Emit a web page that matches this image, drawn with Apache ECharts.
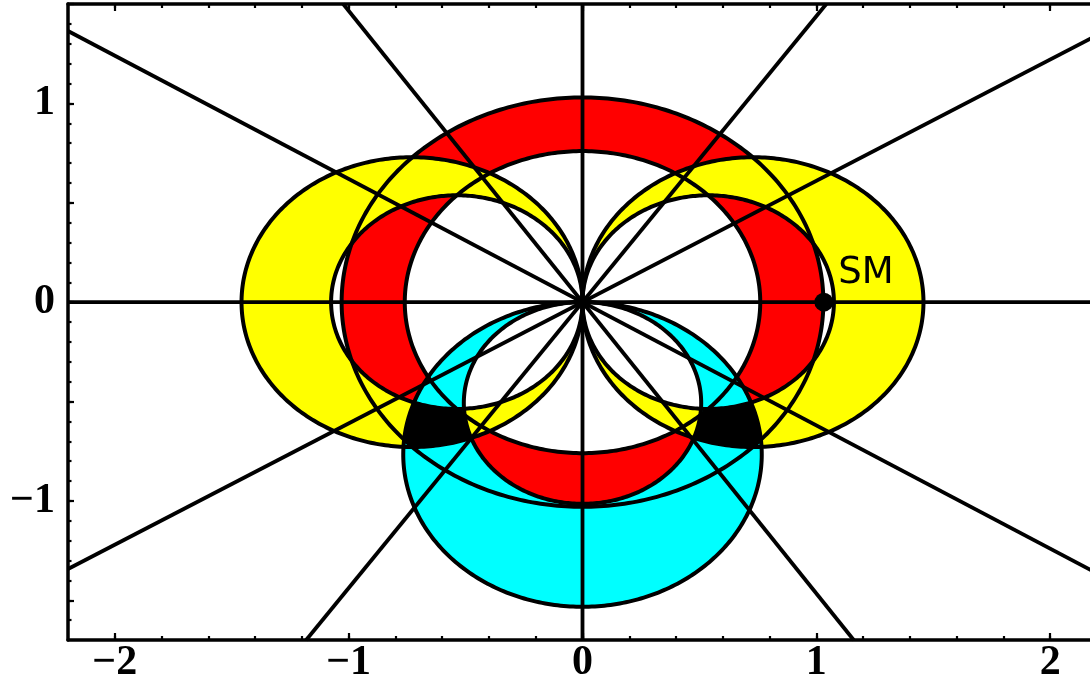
<!DOCTYPE html>
<html>
<head>
<meta charset="utf-8">
<script src="https://cdn.jsdelivr.net/npm/echarts@6/dist/echarts.min.js"></script>
<style>
    html, body { margin: 0; padding: 0; background: #fff; }
    #chart { width: 1090px; height: 685px; }
</style>
</head>
<body>
<div id="chart"></div>
<script>
// plot range
var xRange = [-2.2, 2.2];
var yRange = [-1.7, 1.5];

// red band: two circles round the origin (radii)
var redRadii = [0.76, 1.03];
// yellow loops: circles touching the y axis at the origin, left and right (diameters)
var yellowDiameters = [1.075, 1.458];
// cyan loop: circles touching the x axis at the origin, below it (diameters)
var cyanDiameters = [1.015, 1.533];
// straight lines through the origin (degrees)
var lineAngles = [0, 31.4, 55.2, 90, 124.3, 148.2];
// SM point
var smPoint = [1.032, 0];
var smLabel = 'SM';

// ticks
var xTickLabels = [-2, -1, 0, 1, 2];
var yTickLabels = [-1, 0, 1];
var yMajorTicks = [-1.5, -1, -0.5, 0, 0.5, 1, 1.5];

function steps(a, b, d) {
    var out = [];
    for (var v = a; v <= b + 1e-9; v += d) {
        out.push(Math.round(v * 10) / 10);
    }
    return out;
}
var xMinorTicks = steps(-2.0, 2.0, 0.2);
var yMinorTicks = steps(-1.6, 1.4, 0.1);

var colors = { red: '#ff0000', yellow: '#ffff00', cyan: '#00ffff', black: '#000000' };

/* radial bands: for an angle t, give [rmin, rmax] or null */
function redBand(t) {
    return [redRadii[0], redRadii[1]];
}
function yellowBand(t) {
    var c = Math.abs(Math.cos(t));
    return [yellowDiameters[0] * c, yellowDiameters[1] * c];
}
function cyanBand(t) {
    var s = -Math.sin(t);
    if (s <= 0) return null;
    return [cyanDiameters[0] * s, cyanDiameters[1] * s];
}
function allThree(t) {
    var lo = 0, hi = Infinity;
    var fns = [redBand, yellowBand, cyanBand];
    for (var i = 0; i < fns.length; i++) {
        var b = fns[i](t);
        if (!b) return null;
        lo = Math.max(lo, b[0]);
        hi = Math.min(hi, b[1]);
    }
    return [lo, hi];
}

// painted in this order: later ones cover earlier ones
var fillLayers = [
    { fn: redBand, color: colors.red },
    { fn: yellowBand, color: colors.yellow },
    { fn: cyanBand, color: colors.cyan },
    { fn: allThree, color: colors.black }
];

var N = 1440;

function bandPath(api, fn) {
    var ok = [], bands = [], i;
    for (i = 0; i < N; i++) {
        var t = 2 * Math.PI * i / N;
        var b = fn(t);
        bands.push(b);
        ok.push(!!b && b[1] - b[0] > 1e-9);
    }
    function pt(r, i) {
        var t = 2 * Math.PI * i / N;
        var p = api.coord([r * Math.cos(t), r * Math.sin(t)]);
        return p[0].toFixed(2) + ' ' + p[1].toFixed(2);
    }
    var d = '';
    if (ok.indexOf(false) < 0) {
        var outer = [], inner = [];
        for (i = 0; i < N; i++) outer.push(pt(bands[i][1], i));
        for (i = N - 1; i >= 0; i--) inner.push(pt(bands[i][0], i));
        return 'M' + outer.join(' L') + ' Z M' + inner.join(' L') + ' Z';
    }
    var start = ok.indexOf(false);
    var run = [];
    function flush() {
        if (run.length > 1) {
            var hi = run.map(function (k) { return pt(bands[k][1], k); });
            var lo = run.slice().reverse().map(function (k) { return pt(bands[k][0], k); });
            d += 'M' + hi.concat(lo).join(' L') + ' Z ';
        }
        run = [];
    }
    for (var k = 1; k <= N; k++) {
        var j = (start + k) % N;
        if (ok[j]) run.push(j);
        else flush();
    }
    flush();
    return d;
}

// outlines: every circle in full
var circles = [];
redRadii.forEach(function (r) { circles.push([0, 0, r]); });
yellowDiameters.forEach(function (dm) {
    circles.push([dm / 2, 0, dm / 2]);
    circles.push([-dm / 2, 0, dm / 2]);
});
cyanDiameters.forEach(function (dm) { circles.push([0, -dm / 2, dm / 2]); });

function fmt(v) {
    return v < 0 ? '\u2212' + (-v) : String(v);
}

function tickAxis(pos, range, ticks, len, showLine, labels) {
    return {
        type: 'value',
        gridIndex: 0,
        position: pos,
        min: range[0],
        max: range[1],
        axisLine: { show: showLine, onZero: false, lineStyle: { color: '#000', width: 3.5 } },
        axisTick: {
            show: true, inside: true, length: len, customValues: ticks,
            lineStyle: { color: '#000', width: 2.2 }
        },
        axisLabel: labels ? {
            show: true, customValues: labels, formatter: fmt, color: '#000',
            fontFamily: 'Liberation Serif', fontWeight: 'bold', fontSize: 42,
            margin: (pos === 'left' ? 13 : 2)
        } : { show: false },
        splitLine: { show: false },
        minorTick: { show: false },
        minorSplitLine: { show: false }
    };
}

var chart = echarts.init(document.getElementById('chart'));

chart.setOption({
    animation: false,
    backgroundColor: '#fff',
    grid: {
        left: 68, right: -7, top: 4, bottom: 45,
        containLabel: false, outerBoundsMode: 'none', show: false
    },
    xAxis: [
        tickAxis('bottom', xRange, xTickLabels, 7, true, xTickLabels),
        tickAxis('bottom', xRange, xMinorTicks, 4, false, null),
        tickAxis('top', xRange, xTickLabels, 7, true, null),
        tickAxis('top', xRange, xMinorTicks, 4, false, null)
    ],
    yAxis: [
        tickAxis('left', yRange, yMajorTicks, 6, true, yTickLabels),
        tickAxis('left', yRange, yMinorTicks, 3.5, false, null),
        tickAxis('right', yRange, yMajorTicks, 6, true, null),
        tickAxis('right', yRange, yMinorTicks, 3.5, false, null)
    ],
    series: [
        {
            type: 'custom',
            name: 'fills',
            xAxisIndex: 0, yAxisIndex: 0,
            data: fillLayers.map(function (l, i) { return [i, 0]; }),
            renderItem: function (params, api) {
                var layer = fillLayers[params.dataIndex];
                return {
                    type: 'path',
                    shape: { pathData: bandPath(api, layer.fn) },
                    style: {
                        fill: layer.color,
                        stroke: layer.fn === allThree ? 'rgba(255,255,255,0.45)' : null,
                        lineWidth: 0.7,
                        lineDash: [2, 2]
                    }
                };
            },
            z: 1
        },
        {
            type: 'custom',
            name: 'circles',
            xAxisIndex: 0, yAxisIndex: 0,
            data: circles,
            renderItem: function (params, api) {
                var c = circles[params.dataIndex];
                var pts = [];
                for (var i = 0; i < 360; i++) {
                    var t = 2 * Math.PI * i / 360;
                    pts.push(api.coord([c[0] + c[2] * Math.cos(t), c[1] + c[2] * Math.sin(t)]));
                }
                return {
                    type: 'polygon',
                    shape: { points: pts },
                    style: { fill: 'none', stroke: '#000', lineWidth: 4 }
                };
            },
            z: 2
        },
        {
            type: 'custom',
            name: 'lines',
            xAxisIndex: 0, yAxisIndex: 0,
            data: lineAngles.map(function (a) { return [a, 0]; }),
            renderItem: function (params, api) {
                var a = lineAngles[params.dataIndex] * Math.PI / 180;
                var dx = Math.cos(a), dy = Math.sin(a);
                function reach(sx, sy) {
                    var t = Infinity;
                    if (Math.abs(dx) > 1e-9) t = Math.min(t, (sx * dx > 0 ? xRange[1] : -xRange[0]) / Math.abs(dx));
                    if (Math.abs(dy) > 1e-9) t = Math.min(t, (sy * dy > 0 ? yRange[1] : -yRange[0]) / Math.abs(dy));
                    return t;
                }
                var t1 = reach(1, 1), t2 = reach(-1, -1);
                var p1 = api.coord([dx * t1, dy * t1]);
                var p2 = api.coord([-dx * t2, -dy * t2]);
                return {
                    type: 'line',
                    shape: { x1: p1[0], y1: p1[1], x2: p2[0], y2: p2[1] },
                    style: { stroke: '#000', lineWidth: 3.8 }
                };
            },
            z: 3
        },
        {
            type: 'scatter',
            name: smLabel,
            xAxisIndex: 0, yAxisIndex: 0,
            data: [smPoint],
            symbol: 'circle',
            symbolSize: 19,
            itemStyle: { color: '#000', opacity: 1 },
            label: {
                show: true,
                formatter: smLabel,
                position: 'right',
                distance: 5,
                offset: [0, -29],
                color: '#000',
                opacity: 1,
                fontFamily: 'DejaVu Sans',
                fontSize: 37
            },
            z: 4
        }
    ]
});
</script>
</body>
</html>
